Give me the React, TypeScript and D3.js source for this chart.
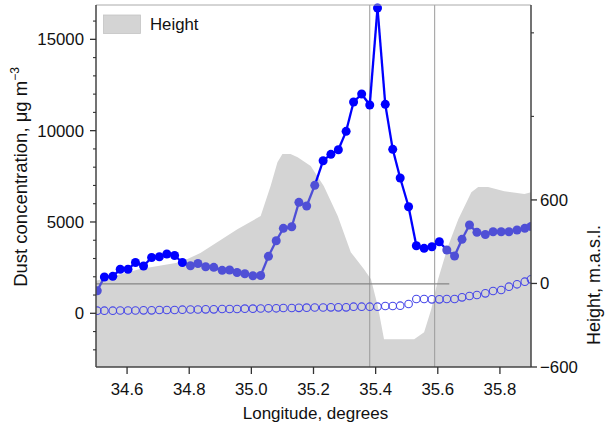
import React from "react";
import * as d3 from "d3";

// Longitude of sampling points
const lons = [34.504, 34.527, 34.554, 34.578, 34.603, 34.627, 34.653, 34.679, 34.704, 34.728,
  34.753, 34.778, 34.804, 34.828, 34.853, 34.879, 34.906, 34.93, 34.954, 34.979,
  35.005, 35.03, 35.055, 35.08, 35.103, 35.13, 35.153, 35.178, 35.204, 35.231,
  35.256, 35.28, 35.305, 35.329, 35.355, 35.381, 35.406, 35.431, 35.455, 35.479,
  35.506, 35.531, 35.556, 35.581, 35.605, 35.629, 35.654, 35.678, 35.702, 35.726,
  35.753, 35.778, 35.804, 35.829, 35.855, 35.88, 35.9];

// Dust concentration (filled markers)
const dust = [1237, 1987, 2025, 2409, 2409, 2781, 2589, 3055, 3099, 3246,
  3164, 2781, 2606, 2726, 2551, 2518, 2354, 2370, 2234, 2168,
  2053, 2069, 3120, 3974, 4653, 4741, 6077, 5874, 7007, 8354,
  8704, 8956, 9963, 11567, 12005, 11403, 16713, 11441, 8978, 7407,
  5836, 3701, 3558, 3646, 3920, 3465, 3137, 4051, 4834, 4434,
  4314, 4467, 4467, 4467, 4560, 4653, 4752];

// Group: B = bright, M = medium
const group = "MBBBBBBBBBBBMMMMMMMMMMMMMMMMMBBBBBBBBBBBBBBBBMMMMMMMMMMMM".split("");

// Background concentration (open markers)
const background = [142, 142, 142, 153, 153, 153, 164, 164, 181, 181,
  181, 197, 208, 208, 219, 219, 235, 235, 235, 252,
  252, 263, 274, 274, 290, 290, 301, 307, 318, 318,
  328, 328, 328, 361, 361, 361, 361, 400, 400, 416,
  509, 783, 783, 766, 766, 783, 783, 876, 947, 1002,
  1095, 1221, 1276, 1456, 1588, 1730, 1861];

// Terrain height profile
const hLon = [34.5, 34.642, 34.771, 34.836, 34.955, 35.03, 35.062, 35.084, 35.1, 35.126,
  35.149, 35.191, 35.233, 35.278, 35.32, 35.362, 35.385, 35.407, 35.427, 35.524,
  35.556, 35.579, 35.601, 35.633, 35.666, 35.708, 35.73, 35.762, 35.814, 35.879, 35.9];
const hVal = [20, 103, 153, 218, 390, 484, 700, 871, 929, 929,
  907, 843, 700, 484, 225, 103, 31, -163, -400, -400,
  -350, -185, 31, 268, 462, 656, 692, 692, 663, 642, 656];

const xTicks = [34.6, 34.8, 35.0, 35.2, 35.4, 35.6, 35.8];
const yTicks = [0, 5000, 10000, 15000];
const yMinor = [-2000, -1000, 1000, 2000, 3000, 4000, 6000, 7000, 8000, 9000, 11000, 12000, 13000, 14000, 16000];
const hTicks = [-600, 0, 600];
const hMinor = [1200, 1800];
const vLines = [35.381, 35.59];

const L = 96, R = 531, T = 5, B = 367;
const BRIGHT = "#0000ff";
const MED = "#4f4fd6";
const OPEN = "#4848e8";
const FONT = "Liberation Sans, Arial, sans-serif";

export default function App() {
  const x = d3.scaleLinear().domain([34.5, 35.9]).range([L, R]);
  const y = d3.scaleLinear().domain([-2940, 16880]).range([B, T]);
  const yh = d3.scaleLinear().domain([-600, 2000]).range([B, T]);

  const area = d3.area<number>()
    .x((_, i) => x(hLon[i]))
    .y0(B)
    .y1((d) => yh(d));
  const areaPath = area(hVal) || "";

  const segs = lons.slice(1).map((lon, i) => {
    let col = group[i] === "B" || group[i + 1] === "B" ? BRIGHT : MED;
    if (i === 0) col = MED;
    return { x1: x(lons[i]), y1: y(dust[i]), x2: x(lon), y2: y(dust[i + 1]), col };
  });

  return (
    <svg width={609} height={427} style={{ position: "absolute", left: 0, top: 0, fontFamily: FONT }}>
      <defs>
        <clipPath id="plot"><rect x={L} y={T - 5} width={R - L} height={B - T + 5} /></clipPath>
      </defs>
      <path d={areaPath} fill="#d4d4d4" />
      {vLines.map((v) => (
        <line key={v} x1={x(v)} x2={x(v)} y1={T} y2={B} stroke="#9a9a9a" strokeWidth={1} />
      ))}
      <line x1={L} x2={x(35.637)} y1={yh(0) + 0.5} y2={yh(0) + 0.5} stroke="#858585" strokeWidth={1.3} />
      <g clipPath="url(#plot)">
        {background.map((v, i) => (
          <circle key={"o" + i} cx={x(lons[i])} cy={y(v)} r={3.8} fill="none" stroke={OPEN} strokeWidth={1.1} />
        ))}
        {segs.map((s, i) => (
          <line key={"s" + i} x1={s.x1} y1={s.y1} x2={s.x2} y2={s.y2} stroke={s.col} strokeWidth={2.3} />
        ))}
        {dust.map((v, i) => (
          <circle key={"f" + i} cx={x(lons[i])} cy={y(v)} r={4.5} fill={group[i] === "B" ? BRIGHT : MED} />
        ))}
      </g>
      {/* frame */}
      <line x1={L} x2={R} y1={T} y2={T} stroke="#aaaaaa" strokeWidth={1} />
      <line x1={L} x2={L} y1={T} y2={B} stroke="#444" strokeWidth={1.5} />
      <line x1={R} x2={R} y1={T} y2={B} stroke="#444" strokeWidth={1.5} />
      <line x1={L} x2={R} y1={B} y2={B} stroke="#444" strokeWidth={1.5} />
      {/* left axis */}
      {yTicks.map((t) => (
        <g key={t}>
          <line x1={L - 6} x2={L} y1={y(t)} y2={y(t)} stroke="#333" strokeWidth={1.3} />
          <text x={L - 12} y={y(t) + 6} fontSize={16.8} textAnchor="end" fill="#111">{t}</text>
        </g>
      ))}
      {yMinor.map((t) => (
        <line key={"m" + t} x1={L - 3} x2={L} y1={y(t)} y2={y(t)} stroke="#333" strokeWidth={1.1} />
      ))}
      {/* right axis */}
      {hTicks.map((t) => (
        <g key={"h" + t}>
          <line x1={R} x2={R + 6} y1={yh(t)} y2={yh(t)} stroke="#333" strokeWidth={1.3} />
          <text x={R + 9} y={yh(t) + 6} fontSize={16.8} fill="#111">{t < 0 ? "\u2212" + Math.abs(t) : t}</text>
        </g>
      ))}
      {hMinor.map((t) => (
        <line key={"hm" + t} x1={R} x2={R + 3} y1={yh(t)} y2={yh(t)} stroke="#333" strokeWidth={1.1} />
      ))}
      {/* bottom axis */}
      {xTicks.map((t) => (
        <g key={"x" + t}>
          <line x1={x(t)} x2={x(t)} y1={B} y2={B + 7} stroke="#333" strokeWidth={1.3} />
          <text x={x(t)} y={395} fontSize={16.8} textAnchor="middle" fill="#111">{t.toFixed(1)}</text>
        </g>
      ))}
      <text x={315.5} y={419} fontSize={17} textAnchor="middle" fill="#111">Longitude, degrees</text>
      <text transform="translate(27,177) rotate(-90)" fontSize={18.5} textAnchor="middle" fill="#111">
        Dust concentration, μg m<tspan dy={-8} fontSize={12}>−3</tspan>
      </text>
      <text transform="translate(600,285) rotate(-90)" fontSize={18} textAnchor="middle" fill="#111">Height, m.a.s.l.</text>
      {/* legend */}
      <rect x={103.5} y={15} width={37} height={18.5} fill="#d4d4d4" stroke="#c4c4c4" strokeWidth={0.8} />
      <text x={150} y={30} fontSize={16.8} fill="#111">Height</text>
    </svg>
  );
}
